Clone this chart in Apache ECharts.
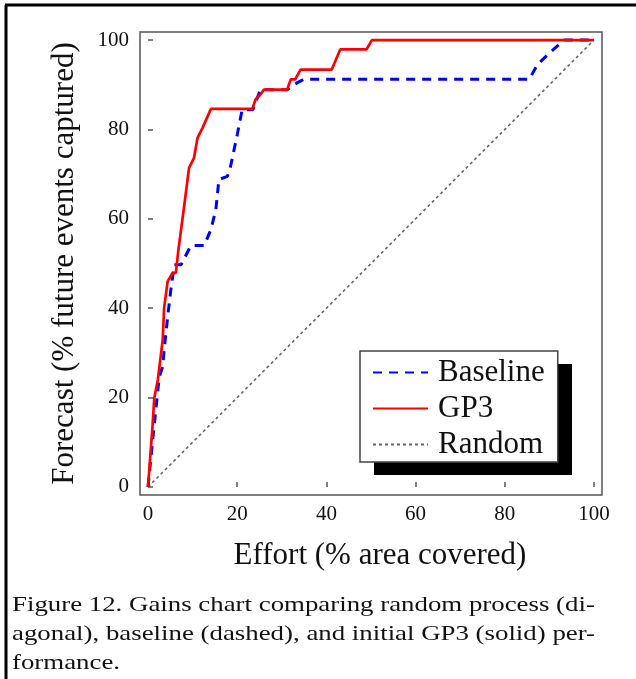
<!DOCTYPE html>
<html>
<head>
<meta charset="utf-8">
<script src="https://cdn.jsdelivr.net/npm/echarts@6/dist/echarts.min.js"></script>
<style>
  html, body { margin: 0; padding: 0; background: #fff; }
  #main { width: 636px; height: 679px; }
</style>
</head>
<body>
<div id="main"></div>
<script>
// tick labels for both axes
const ticks = [0, 20, 40, 60, 80, 100]

// [effort %, forecast %]
const baseline = [
  [0, 0], [1, 10], [2.5, 24.5], [3.3, 27], [3.6, 30.5], [4.4, 38], [5.1, 44],
  [5.9, 49.7], [7.4, 49.7], [9.6, 54], [12.6, 54], [14.1, 57.6], [15.2, 62],
  [15.9, 68.8], [17.8, 69.5], [18.5, 71.7], [20, 78.8], [21.1, 84.4], [23.5, 84.4],
  [25.2, 88.9], [31.2, 88.9], [33.4, 90.4], [34.9, 91.2], [85.5, 91.2],
  [87.3, 94.5], [90, 97.1], [93.3, 100], [100, 100]
]
const gp3 = [
  [0, 0], [1, 13.5], [1.4, 19.9], [2.2, 24], [3.3, 33], [3.6, 40], [4.4, 46],
  [5.5, 47.9], [6.25, 47.9], [6.8, 53], [8.1, 62.8], [9.2, 71.4], [10.3, 73.6],
  [11.1, 78.1], [12.2, 80.3], [14.1, 84.6], [23.4, 84.6], [24.1, 86.7],
  [25.2, 87.8], [26, 88.9], [31.2, 88.9], [32, 91.2], [33, 91.2], [34.2, 93.4],
  [41.2, 93.4], [43.1, 97.9], [49, 97.9], [50.2, 100], [100, 100]
]
const random = [[0, 0], [100, 100]]

const caption = 'Figure 12. Gains chart comparing random process (di-\nagonal), baseline (dashed), and initial GP3 (solid) per-\nformance.'

const serif = 'Liberation Serif'
const frameColor = '#555'

const myChart = echarts.init(document.getElementById('main'))

const axisCommon = {
  type: 'value',
  min: -1.8,
  max: 101.8,
  nameLocation: 'middle',
  axisLine: { show: false },
  splitLine: { show: false },
  axisTick: {
    inside: true,
    length: 5,
    customValues: ticks,
    lineStyle: { color: frameColor, width: 1.5 }
  },
  nameTextStyle: { fontFamily: serif, fontSize: 31, color: '#111' }
}

myChart.setOption({
  animation: false,
  backgroundColor: '#fff',
  grid: {
    left: 140,
    right: 34,
    top: 32,
    bottom: 184,
    show: true,
    borderColor: frameColor,
    borderWidth: 1.5,
    backgroundColor: 'transparent'
  },
  xAxis: Object.assign({}, axisCommon, {
    name: 'Effort (% area covered)',
    nameGap: 45,
    nameTextStyle: Object.assign({}, axisCommon.nameTextStyle, { padding: [0, 0, 0, 18] }),
    axisLabel: {
      customValues: ticks,
      margin: 9,
      fontFamily: serif,
      fontSize: 21,
      color: '#111'
    }
  }),
  yAxis: Object.assign({}, axisCommon, {
    name: 'Forecast (% future events captured)',
    nameGap: 60,
    axisLabel: {
      customValues: ticks,
      margin: 11,
      fontFamily: serif,
      fontSize: 21,
      color: '#111'
    }
  }),
  legend: {
    orient: 'vertical',
    left: 360,
    top: 351,
    padding: [6, 13, 2, 12],
    itemWidth: 55,
    itemHeight: 14,
    itemGap: 5,
    backgroundColor: '#fff',
    borderColor: '#444',
    borderWidth: 1.5,
    itemStyle: { opacity: 0 },
    textStyle: {
      fontFamily: serif,
      fontSize: 31,
      lineHeight: 30,
      color: '#111',
      padding: [0, 0, 0, 5]
    },
    data: ['Baseline', 'GP3', 'Random']
  },
  series: [
    {
      name: 'Random',
      type: 'line',
      data: random,
      symbol: 'none',
      lineStyle: { color: '#666', width: 1.6, type: [3, 3] },
      itemStyle: { color: '#666' },
      z: 1
    },
    {
      name: 'Baseline',
      type: 'line',
      data: baseline,
      symbol: 'none',
      lineStyle: { color: '#0000ff', width: 3, type: [9, 7] },
      itemStyle: { color: '#0000ff' },
      z: 2
    },
    {
      name: 'GP3',
      type: 'line',
      data: gp3,
      symbol: 'none',
      lineStyle: { color: '#ff0000', width: 2.7 },
      itemStyle: { color: '#ff0000' },
      z: 3
    }
  ],
  graphic: [
    { type: 'line', shape: { x1: 5, y1: 5, x2: 636, y2: 5 }, style: { stroke: '#000', lineWidth: 3 } },
    { type: 'line', shape: { x1: 6, y1: 5, x2: 6, y2: 679 }, style: { stroke: '#000', lineWidth: 3 } },
    // drop shadow behind the legend box
    { type: 'rect', z: 3, shape: { x: 374, y: 364, width: 198, height: 111 }, style: { fill: '#000' } },
    {
      type: 'text',
      left: 12,
      top: 591,
      scaleX: 1.22,
      style: {
        text: caption,
        fontFamily: serif,
        fontSize: 22,
        lineHeight: 29,
        fill: '#111'
      }
    }
  ]
})
</script>
</body>
</html>
